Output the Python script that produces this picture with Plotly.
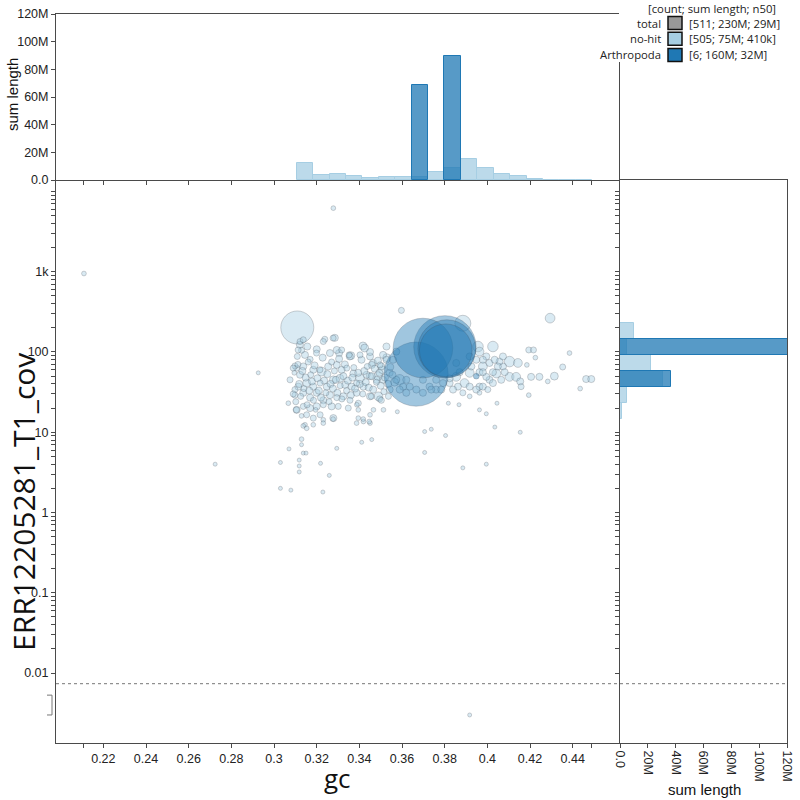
import math
import plotly.graph_objects as go

# ---------------- data ----------------
# no-hit contigs: gc, coverage, length (kb)
nohit_gc = [
    0.2109, 0.3278, 0.2926, 0.2724, 0.3030, 0.3030, 0.3079, 0.3229, 0.3917, 0.3597,
    0.4294, 0.3885, 0.4385, 0.4353, 0.4463, 0.4487, 0.4435, 0.4314, 0.4244, 0.4205,
    0.4194, 0.4216, 0.4225, 0.4185, 0.4283, 0.4158, 0.4194, 0.4104, 0.4135, 0.4143,
    0.4154, 0.4026, 0.3995, 0.4073, 0.4057, 0.4042, 0.4010, 0.4026, 0.3979, 0.3995,
    0.3963, 0.4002, 0.3963, 0.4045, 0.3963, 0.3995, 0.4035, 0.4154, 0.3995, 0.3885,
    0.3804, 0.3737, 0.3706, 0.3706, 0.3867, 0.3817, 0.3578, 0.3917, 0.3963, 0.3893,
    0.3854, 0.3917, 0.3979, 0.3963, 0.3956, 0.3862, 0.3823, 0.4104, 0.4010, 0.4034,
    0.4073, 0.4049, 0.4081, 0.4065, 0.4026, 0.3979, 0.3948, 0.3917, 0.3885, 0.3854,
    0.3917, 0.3948, 0.3925, 0.3979, 0.3870,
    0.3527, 0.3511, 0.3503, 0.3488, 0.3511, 0.3542, 0.3573, 0.3589, 0.3605, 0.3620,
    0.3636, 0.3542, 0.3558, 0.3573, 0.3527, 0.3449, 0.3464, 0.3456, 0.3495, 0.3503,
    0.3729, 0.3760, 0.3792, 0.3823, 0.3760, 0.3698, 0.3667, 0.3620, 0.3698, 0.3737,
    0.3784, 0.3839, 0.3589, 0.3417, 0.3238, 0.3277, 0.3199, 0.3355, 0.3305,
    0.3122, 0.3156, 0.3231, 0.3285, 0.3200, 0.3129, 0.3109, 0.3145, 0.3169, 0.3262,
    0.3294, 0.3317, 0.3360, 0.3425, 0.3403, 0.3450, 0.3458, 0.3497, 0.3106, 0.3122,
    0.3137, 0.3184, 0.3223, 0.3254, 0.3294, 0.3317, 0.3341, 0.3372, 0.3403, 0.3434,
    0.3481, 0.3114, 0.3153, 0.3184, 0.3216, 0.3247, 0.3278, 0.3309, 0.3333, 0.3364,
    0.3387, 0.3419, 0.3450, 0.3489, 0.3137, 0.3169, 0.3200, 0.3231, 0.3262, 0.3294,
    0.3325, 0.3356, 0.3387, 0.3067, 0.3106, 0.3137, 0.3169, 0.3200, 0.3231, 0.3270,
    0.3301, 0.3348, 0.3395, 0.3129, 0.3153, 0.3184, 0.3216, 0.3231, 0.3278, 0.3145,
    0.3184, 0.3137, 0.3395, 0.3395, 0.3450, 0.3387, 0.3419, 0.3450, 0.3536, 0.3466,
    0.3513, 0.3129, 0.3153, 0.3070, 0.3129, 0.3294, 0.3411, 0.3458,
    0.3137, 0.3150, 0.3118, 0.3118, 0.3118, 0.3218, 0.3259, 0.3418, 0.3446, 0.3277, 0.3231,
    0.3098, 0.3105, 0.3098, 0.3121, 0.3137, 0.3113, 0.3090, 0.3098,
    0.3075, 0.3090, 0.3095, 0.3102, 0.3112, 0.3118, 0.3125, 0.3133, 0.3140, 0.3148,
    0.3155, 0.3160, 0.3165, 0.3172, 0.3178, 0.3185, 0.3190, 0.3195, 0.3203, 0.3210,
    0.3215, 0.3220, 0.3228, 0.3235, 0.3243, 0.3250, 0.3258, 0.3265, 0.3270, 0.3276,
    0.3283, 0.3290, 0.3297, 0.3305, 0.3310, 0.3318, 0.3325, 0.3332, 0.3340, 0.3346,
    0.3352, 0.3360, 0.3367, 0.3374, 0.3380, 0.3388, 0.3395, 0.3402, 0.3410, 0.3416,
    0.3423, 0.3430, 0.3437, 0.3444, 0.3450, 0.3458, 0.3465, 0.3472, 0.3480, 0.3487,
    0.3494, 0.3500, 0.3508, 0.3515, 0.3520, 0.3528, 0.3535, 0.3545, 0.3555, 0.3565,
    0.3109,
]
nohit_cov = [
    950, 6200, 55, 4.0, 4.2, 2.0, 1.9, 1.8, 0.0030, 330,
    264, 228, 97, 65, 46, 46, 35, 50, 49, 49,
    106, 106, 85, 69, 43, 37, 29, 49, 49, 73,
    43, 117, 88, 66, 76, 54, 45, 56, 66, 49,
    56, 34, 31, 23, 19, 17, 11.6, 10, 4.0, 3.6,
    9.1, 10.9, 10.2, 5.6, 22, 23, 18, 37, 37, 41,
    49, 55, 80, 101, 117, 37, 41, 76, 73, 80,
    88, 66, 56, 45, 41, 37, 34, 28, 31, 73,
    88, 80, 66, 56, 56,
    117, 92, 66, 50, 45, 34, 45, 45, 37, 31,
    37, 55, 80, 101, 80, 50, 73, 28, 26, 25,
    37, 34, 41, 47, 45, 45, 34, 45, 31, 34,
    34, 34, 34, 119, 144, 149, 97, 88, 97,
    135, 117, 135, 150, 108, 105, 88, 92, 81, 97,
    106, 106, 90, 112, 92, 88, 69, 69, 63, 52,
    66, 60, 57, 66, 69, 60, 63, 54, 47, 52,
    45, 37, 41, 37, 41, 37, 45, 47, 39, 37,
    41, 37, 28, 28, 31, 27, 31, 25, 29, 27,
    28, 25, 31, 23, 19, 21, 20, 21, 22, 21,
    21, 20, 23, 16, 16.5, 15, 16.5, 14.3, 15, 12.4,
    12.4, 12, 19, 15, 16.5, 13, 13.6, 13, 28, 19,
    19, 8.2, 11.2, 6.2, 7.0, 6.3, 7.5, 8.1,
    5.5, 5.5, 4.5, 3.8, 3.2, 4.1, 2.9, 14.6, 13.6, 14.6, 13,
    34, 19, 67, 123, 142, 106, 63, 29,
    45, 30, 55, 24, 70, 40, 28, 58, 35, 48,
    22, 75, 33, 52, 43, 25, 68, 19, 47, 33,
    60, 27, 85, 44, 31, 53, 24, 40, 75, 35,
    58, 45, 31, 82, 38, 26, 50, 70, 33, 44,
    92, 29, 48, 64, 35, 22, 55, 40, 80, 30,
    58, 42, 66, 36, 100, 50, 34, 62, 42, 78,
    55, 38, 60, 32, 48, 85, 40, 65, 52, 42,
    202,
]
nohit_kb = [
    200, 200, 120, 120, 120, 120, 120, 120, 120, 330,
    850, 2300, 200, 330, 450, 450, 200, 560, 450, 450,
    330, 330, 200, 200, 200, 330, 200, 700, 700, 700,
    450, 1000, 450, 450, 450, 700, 450, 450, 700, 450,
    450, 330, 200, 120, 120, 120, 120, 120, 120, 120,
    120, 120, 120, 120, 120, 120, 120, 450, 450, 700,
    700, 700, 450, 700, 1000, 450, 450, 1000, 450, 450,
    450, 450, 450, 450, 450, 450, 450, 200, 330, 450,
    450, 450, 450, 450, 450,
    450, 450, 450, 700, 450, 450, 450, 1000, 450, 450,
    450, 450, 450, 450, 450, 450, 450, 330, 330, 330,
    450, 450, 450, 450, 450, 450, 450, 450, 450, 450,
    450, 450, 450, 560, 330, 330, 330, 450, 450,
    330, 450, 330, 450, 450, 330, 330, 450, 330, 450,
    450, 330, 560, 560, 330, 450, 450, 330, 330, 450,
    450, 450, 700, 450, 450, 450, 330, 450, 700, 450,
    450, 450, 560, 450, 330, 450, 560, 560, 450, 450,
    330, 450, 450, 700, 450, 450, 450, 450, 450, 330,
    450, 330, 450, 200, 450, 330, 450, 450, 330, 450,
    330, 330, 330, 200, 330, 330, 330, 200, 450, 200,
    200, 200, 200, 200, 200, 200, 200, 200, 330, 200,
    200, 200, 200, 120, 120, 120, 120, 120,
    120, 120, 120, 120, 120, 120, 120, 200, 200, 200, 200,
    330, 330, 330, 450, 330, 330, 330, 330,
    330, 330, 200, 330, 330, 450, 330, 450, 330, 450,
    330, 330, 450, 330, 450, 330, 450, 200, 450, 450,
    330, 450, 450, 450, 330, 450, 330, 450, 330, 450,
    330, 450, 450, 450, 330, 330, 450, 450, 330, 450,
    330, 450, 450, 330, 450, 200, 450, 450, 450, 330,
    450, 450, 330, 450, 450, 450, 450, 450, 330, 450,
    450, 450, 560, 330, 450, 560, 450, 450, 450, 560,
    9800,
]

# Arthropoda contigs: gc, coverage, length (Mb)
arth_gc = [0.3666, 0.3698, 0.3801, 0.3810, 0.3805, 0.3948]
arth_cov = [53, 112, 116, 110, 105, 50]
arth_mb = [37, 32, 35, 30, 25, 0.3]

# top histogram (gc bins, sum length in Mb)
top_bin_lo = [0.3106, 0.3183, 0.3260, 0.3337, 0.3414, 0.3491, 0.3568, 0.3645, 0.3722,
              0.3799, 0.3876, 0.3953, 0.4030, 0.4107, 0.4184, 0.4261, 0.4338, 0.4415]
top_bin_w = 0.0077
top_nohit_mb = [12.5, 3.4, 4.3, 2.9, 1.2, 1.9, 2.4, 2.0, 6.0, 8.4, 15.3, 8.8, 4.3, 2.9, 0.7, 0.3, 0.3, 0.2]
top_arth_mb = [0, 0, 0, 0, 0, 0, 0, 69, 0, 90, 0, 0, 0, 0, 0, 0, 0, 0]

# right histogram (log10 coverage bins, sum length in Mb)
right_bin_lo = [2.16, 1.96, 1.76, 1.56, 1.36, 1.16, 0.96]
right_bin_w = 0.2
right_nohit_mb = [10.3, 4.8, 22.0, 30.7, 4.8, 1.4, 0.3]
right_arth_mb = [0, 123, 0, 37, 0, 0, 0]

# axis ticks and legend text
gc_tick_vals = [0.22, 0.24, 0.26, 0.28, 0.30, 0.32, 0.34, 0.36, 0.38, 0.40, 0.42, 0.44]
gc_tick_text = ["0.22", "0.24", "0.26", "0.28", "0.3", "0.32", "0.34", "0.36", "0.38", "0.4", "0.42", "0.44"]
cov_tick_vals = [0.01, 0.1, 1, 10, 100, 1000]
cov_tick_text = ["0.01", "0.1", "1", "10", "100", "1k"]
len_tick_vals = [0, 20e6, 40e6, 60e6, 80e6, 100e6, 120e6]
len_tick_text = ["0.0", "20M", "40M", "60M", "80M", "100M", "120M"]
zero_cov_threshold = 0.00736
legend_names = ["total", "no-hit", "Arthropoda"]
legend_stats = ["[511; 230M; 29M]", "[505; 75M; 410k]", "[6; 160M; 32M]"]

# ---------------- layout geometry ----------------
W = H = 800
def PX(p):
    return p / W
def PY(p):
    return 1 - p / H

x_dom = [PX(56), PX(619)]
r_dom = [PX(620), PX(787)]
main_ydom = [PY(743), PY(180)]
top_ydom = [PY(180), PY(14)]
gc_range = [0.1978, 0.4617]
log_range = [-2.872, 4.143]
len_range = [0, 120e6]

C_NOHIT = "#a6cee3"
C_ARTH = "#1f78b4"
AXC = "#4a4a4a"
TICKFONT = dict(family="Liberation Sans, Arial, sans-serif", size=12.5, color="#222")
TITLEFONT = "Open Sans, sans-serif"
LEGFONT = dict(family=TITLEFONT, size=11.3, color="#222")

minor_cov = [m * 10 ** e for e in range(-2, 4) for m in range(2, 10)] + [10000]

fig = go.Figure()

# ---------- scatter (main) ----------
SIZEREF = 18000.0
nh_len = [k * 1000 for k in nohit_kb]
order = sorted(range(len(nh_len)), key=lambda i: -nh_len[i])
fig.add_trace(go.Scatter(
    x=[nohit_gc[i] for i in order], y=[nohit_cov[i] for i in order],
    mode="markers", xaxis="x", yaxis="y", hoverinfo="skip",
    marker=dict(size=[nh_len[i] for i in order], sizemode="area", sizeref=SIZEREF, sizemin=2,
                color="rgba(166,206,227,0.6)", line=dict(color="rgba(70,80,90,0.55)", width=0.7)),
))
ar_len = [m * 1e6 for m in arth_mb]
aorder = sorted(range(len(ar_len)), key=lambda i: -ar_len[i])
fig.add_trace(go.Scatter(
    x=[arth_gc[i] for i in aorder], y=[arth_cov[i] for i in aorder],
    mode="markers", xaxis="x", yaxis="y", hoverinfo="skip",
    marker=dict(size=[ar_len[i] for i in aorder], sizemode="area", sizeref=SIZEREF, sizemin=2,
                color="rgba(31,120,180,0.6)", line=dict(color="rgba(50,70,90,0.45)", width=0.8)),
))

# ---------- top histogram ----------
def nz(lo, vals, w):
    c, v = [], []
    for a, b in zip(lo, vals):
        if b > 0:
            c.append(a + w / 2)
            v.append(b * 1e6)
    return c, v

cx, cy = nz(top_bin_lo, top_nohit_mb, top_bin_w)
fig.add_trace(go.Bar(x=cx, y=cy, width=top_bin_w, xaxis="x2", yaxis="y2", hoverinfo="skip",
                     marker=dict(color="rgba(166,206,227,0.75)", line=dict(color=C_NOHIT, width=1))))
cx, cy = nz(top_bin_lo, top_arth_mb, top_bin_w)
fig.add_trace(go.Bar(x=cx, y=cy, width=top_bin_w, xaxis="x2", yaxis="y2", hoverinfo="skip",
                     marker=dict(color="rgba(31,120,180,0.75)", line=dict(color=C_ARTH, width=1))))

# ---------- right histogram ----------
ry, rx = nz(right_bin_lo, right_nohit_mb, right_bin_w)
fig.add_trace(go.Bar(y=ry, x=rx, width=right_bin_w, orientation="h", xaxis="x3", yaxis="y3",
                     hoverinfo="skip",
                     marker=dict(color="rgba(166,206,227,0.75)", line=dict(color=C_NOHIT, width=1))))
ry, rx = nz(right_bin_lo, right_arth_mb, right_bin_w)
fig.add_trace(go.Bar(y=ry, x=rx, width=right_bin_w, orientation="h", xaxis="x3", yaxis="y3",
                     hoverinfo="skip",
                     marker=dict(color="rgba(31,120,180,0.75)", line=dict(color=C_ARTH, width=1))))

all_gc = nohit_gc + arth_gc
xt_vals = [min(all_gc)] + gc_tick_vals + [max(all_gc)]
xt_text = [""] + gc_tick_text + [""]

common_axis = dict(showgrid=False, zeroline=False, showline=True, linecolor=AXC, linewidth=1,
                   ticks="outside", ticklen=4, tickcolor=AXC, automargin=False, tickfont=TICKFONT)

fig.update_layout(
    width=W, height=H, margin=dict(l=0, r=0, t=0, b=0),
    paper_bgcolor="white", plot_bgcolor="rgba(0,0,0,0)",
    showlegend=False, barmode="overlay", bargap=0,
    xaxis=dict(domain=x_dom, range=gc_range, anchor="y", tickmode="array",
               tickvals=xt_vals, ticktext=xt_text, **common_axis),
    yaxis=dict(domain=main_ydom, type="log", range=log_range, anchor="x", tickmode="array",
               tickvals=cov_tick_vals, ticktext=cov_tick_text,
               minor=dict(tickmode="array", tickvals=minor_cov, ticks="outside", ticklen=4,
                          tickcolor=AXC, showgrid=False),
               **common_axis),
    xaxis2=dict(domain=x_dom, range=gc_range, anchor="y2", tickmode="array", tickvals=xt_vals,
                showticklabels=False, mirror=True, **common_axis),
    yaxis2=dict(domain=top_ydom, range=len_range, anchor="x2", tickmode="array",
                tickvals=len_tick_vals, ticktext=len_tick_text, **common_axis),
    xaxis3=dict(domain=r_dom, range=len_range, anchor="y3", tickmode="array",
                tickvals=len_tick_vals, ticktext=len_tick_text, tickangle=90, mirror=True,
                **common_axis),
    yaxis3=dict(domain=main_ydom, range=log_range, anchor="x3", tickmode="array",
                tickvals=[math.log10(v) for v in cov_tick_vals + minor_cov],
                showticklabels=False, mirror=True, **common_axis),
)

shapes = []
# dashed zero-coverage threshold line across main + right panels
thr = math.log10(zero_cov_threshold)
shapes.append(dict(type="line", xref="paper", yref="y3", x0=x_dom[0], x1=r_dom[1], y0=thr, y1=thr,
                   line=dict(color="#777", width=1, dash="3px,3px")))
# bracket for zero-coverage contigs
b0, b1 = math.log10(0.0053), math.log10(0.0030)
shapes.append(dict(type="path", xref="paper", yref="y3",
                   path=f"M {PX(47)} {b0} L {PX(52)} {b0} L {PX(52)} {b1} L {PX(47)} {b1}",
                   line=dict(color="#777", width=1)))
# vertical separator above right panel
shapes.append(dict(type="line", xref="paper", yref="paper", x0=PX(619.5), x1=PX(619.5),
                   y0=PY(180), y1=PY(62), line=dict(color=AXC, width=1)))

# legend
ann = []
ann.append(dict(text="[count; sum length; n50]", x=PX(778), y=PY(8), xref="paper", yref="paper",
                xanchor="right", yanchor="middle", showarrow=False, font=LEGFONT))
row_y = [23, 38.7, 55]
row_col = ["#999999", C_NOHIT, C_ARTH]
for name, stat, yc, col in zip(legend_names, legend_stats, row_y, row_col):
    shapes.append(dict(type="rect", xref="paper", yref="paper", x0=PX(668), x1=PX(682),
                       y0=PY(yc + 6.5), y1=PY(yc - 6.5), fillcolor=col,
                       line=dict(color="#111", width=1.5)))
    ann.append(dict(text=name, x=PX(663), y=PY(yc), xref="paper", yref="paper", xanchor="right",
                    yanchor="middle", showarrow=False, font=LEGFONT))
    ann.append(dict(text=stat, x=PX(687), y=PY(yc), xref="paper", yref="paper", xanchor="left",
                    yanchor="middle", showarrow=False, font=LEGFONT))

# axis titles
ann.append(dict(text="gc", x=PX(337), y=PY(778), xref="paper", yref="paper", xanchor="center",
                yanchor="middle", showarrow=False, font=dict(family=TITLEFONT, size=26, color="#111")))
ann.append(dict(text="ERR12205281_T1_cov", x=PX(24), y=PY(502), xref="paper", yref="paper",
                xanchor="center", yanchor="middle", textangle=-90, showarrow=False,
                font=dict(family=TITLEFONT, size=30, color="#111")))
ann.append(dict(text="sum length", x=PX(12), y=PY(95), xref="paper", yref="paper", xanchor="center",
                yanchor="middle", textangle=-90, showarrow=False,
                font=dict(family="Liberation Sans, Arial, sans-serif", size=15, color="#111")))
ann.append(dict(text="sum length", x=PX(704), y=PY(789), xref="paper", yref="paper",
                xanchor="center", yanchor="middle", showarrow=False,
                font=dict(family="Liberation Sans, Arial, sans-serif", size=15, color="#111")))

fig.update_layout(shapes=shapes, annotations=ann)
fig.write_html("out.html")
